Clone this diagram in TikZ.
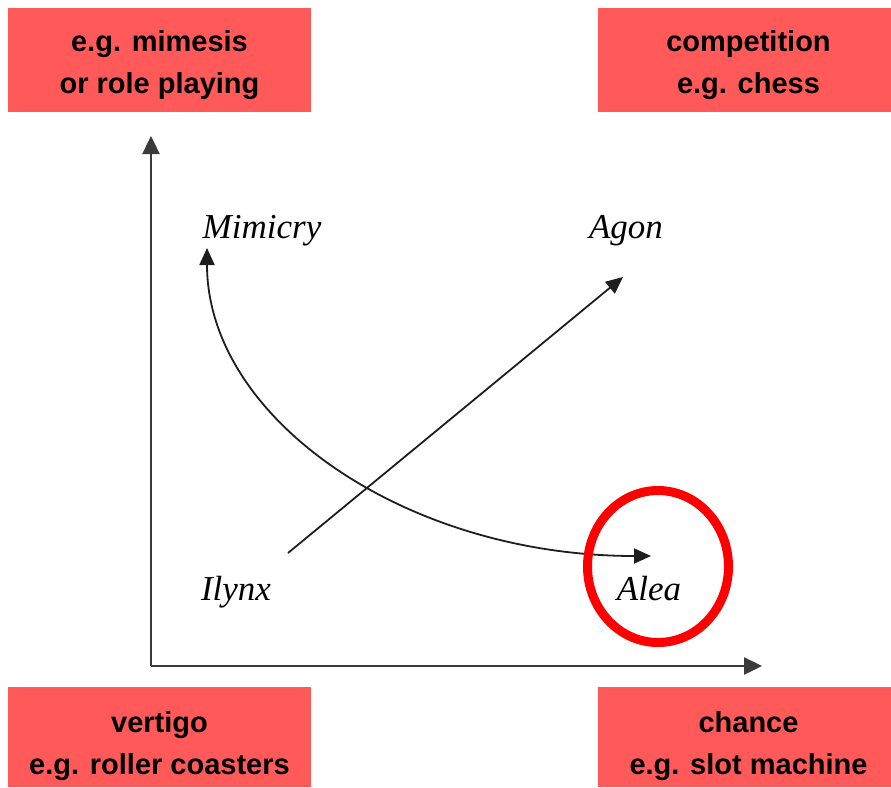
\documentclass[tikz,border=0pt]{standalone}
\usepackage{fontspec}
\setmainfont{Liberation Sans}
\newfontfamily\labelserif{Liberation Serif}
\usetikzlibrary{arrows.meta}
\definecolor{boxred}{HTML}{FF5959}
\definecolor{ringred}{HTML}{FF0000}
\definecolor{axisgray}{HTML}{3A3A3A}
\definecolor{linegray}{HTML}{1E1E1E}
\tikzset{
  cornerbox/.style={fill=boxred, draw=none, inner sep=0pt, minimum width=#1, minimum height=104pt},
  boxtext/.style={inner sep=0pt, align=center, text=black, font=\fontsize{29}{42}\selectfont\bfseries},
  playlabel/.style={inner sep=0pt, anchor=base, font=\labelserif\itshape\fontsize{35}{40}\selectfont},
  axisline/.style={draw=axisgray, line width=2.4pt, -{Triangle[length=18pt,width=17pt]}},
  flowline/.style={draw=linegray, line width=1.8pt},
  bigtip/.tip={Triangle[length=17pt,width=15pt]},
  ring/.style={draw=ringred, line width=9pt}
}
\begin{document}
\begin{tikzpicture}[x=1pt,y=-1pt]
\useasboundingbox (0,0) rectangle (891,787);
% corner boxes
\node[cornerbox=303pt] (mimbox) at (159.5,59.5) {};
\node[cornerbox=293pt] (agbox) at (744.5,59.5) {};
\node[cornerbox=303pt, minimum height=100pt] (ilbox) at (159.5,737) {};
\node[cornerbox=293pt, minimum height=100pt] (albox) at (744.5,737) {};
\node[boxtext, yshift=-6pt] (mimtext) at (mimbox.center) {e.g. mimesis\\or role playing};
\node[boxtext, yshift=-6pt, xshift=4pt] (agtext) at (agbox.center) {competition\\e.g. chess};
\node[boxtext, yshift=-9pt] (iltext) at (ilbox.center) {vertigo\\e.g. roller coasters};
\node[boxtext, yshift=-9pt, xshift=4pt] (altext) at (albox.center) {chance\\e.g. slot machine};
% axes
\coordinate (origin) at (151,666);
\coordinate (ytop) at (151,136);
\coordinate (xend) at (762,666);
\draw[axisline] (origin) -- (ytop);
\draw[axisline] (origin) -- (xend);
% labels
\node[playlabel] (mimicry) at (262,238) {Mimicry};
\node[playlabel] (agon) at (626,238) {Agon};
\node[playlabel] (ilynx) at (236,600) {Ilynx};
\node[playlabel] (alea) at (649,600) {Alea};
% diagonal arrow Ilynx -> Agon
\coordinate (dstart) at (288,553);
\coordinate (dend) at (623,277);
\draw[flowline, -{bigtip}] (dstart) -- (dend);
% curved arrow Mimicry <-> Alea
\coordinate (ctop) at (207,248);
\coordinate (cend) at (651,556);
\draw[flowline, {bigtip}-{bigtip}] (ctop) .. controls (207,418.6) and (405.3,556) .. (cend);
% ring round Alea
\draw[ring] (658,566.5) ellipse [x radius=70.5pt, y radius=76pt];
\end{tikzpicture}
\end{document}
